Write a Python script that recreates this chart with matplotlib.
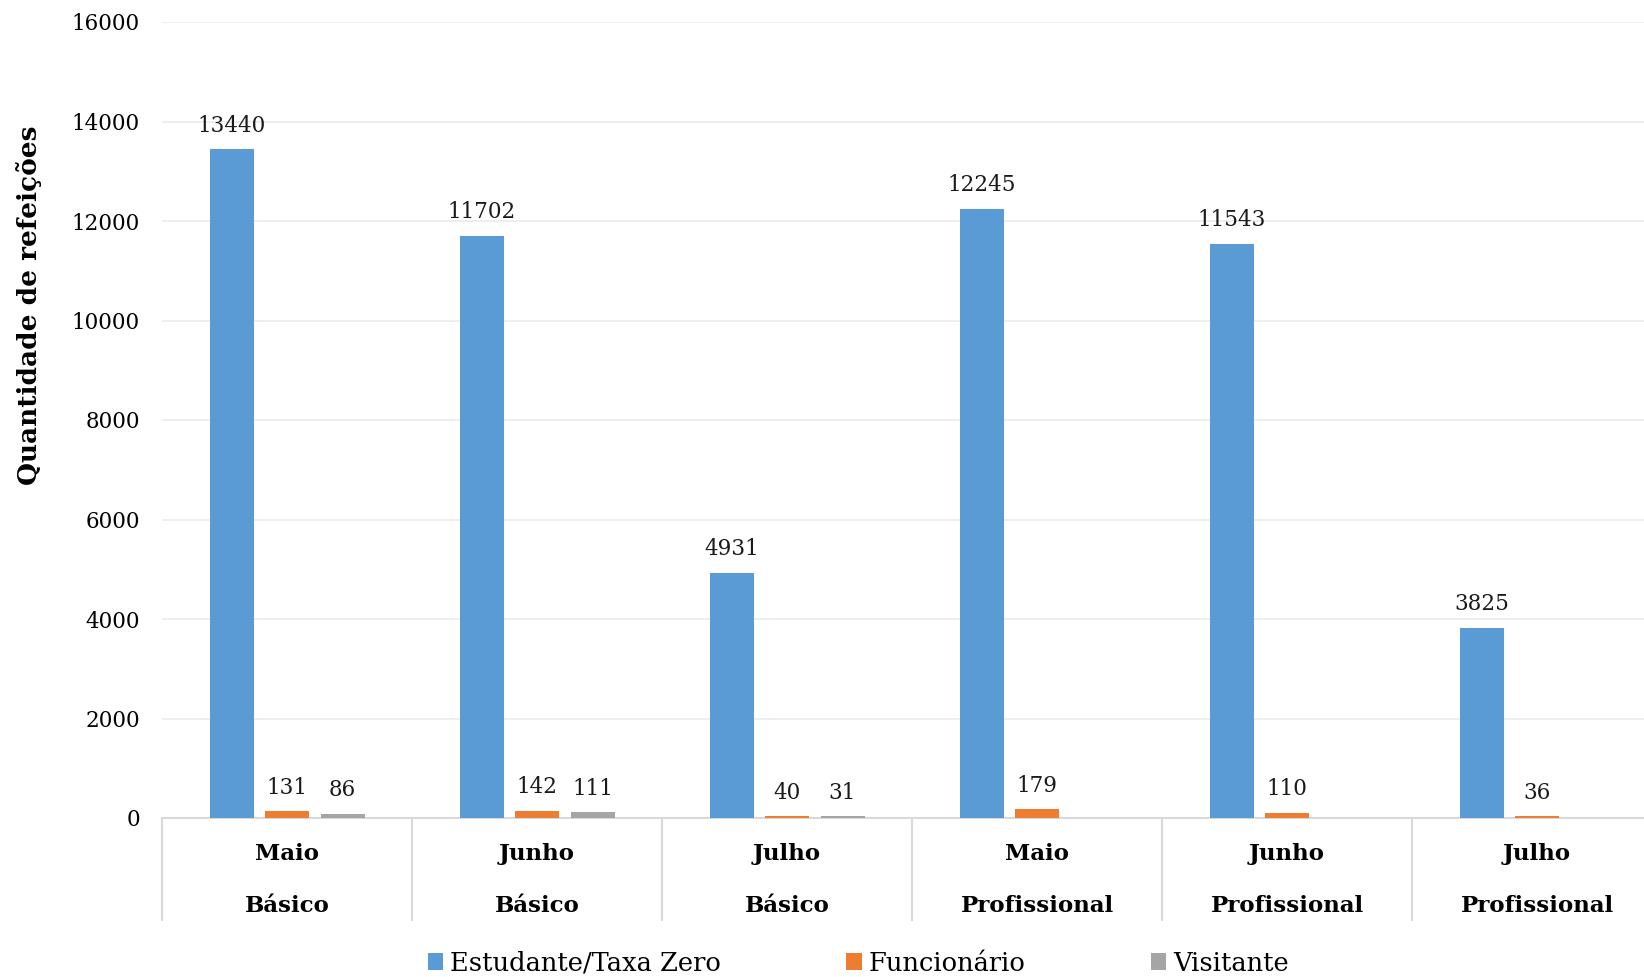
import matplotlib
matplotlib.use("Agg")
import matplotlib.pyplot as plt
import matplotlib.transforms as mtransforms
from matplotlib.patches import Patch
import numpy as np

# Meal counts per month and unit
months = ["Maio", "Junho", "Julho", "Maio", "Junho", "Julho"]
units = ["Básico", "Básico", "Básico", "Profissional", "Profissional", "Profissional"]
series_names = ["Estudante/Taxa Zero", "Funcionário", "Visitante"]
estudante = [13440, 11702, 4931, 12245, 11543, 3825]
funcionario = [131, 142, 40, 179, 110, 36]
visitante = [86, 111, 31, 0, 0, 0]
yticks = [0, 2000, 4000, 6000, 8000, 10000, 12000, 14000, 16000]

colors = ["#5B9BD5", "#ED7D31", "#A5A5A5"]
serif = "DejaVu Serif"
plt.rcParams["font.family"] = serif

W, H = 1644, 977
fig = plt.figure(figsize=(W / 100, H / 100), dpi=100)
ax = fig.add_axes([162 / W, 159 / H, 1500 / W, 796 / H])

x = np.arange(len(months))
bw = 0.176
step = 0.222
for i, (vals, c) in enumerate(zip([estudante, funcionario, visitante], colors)):
    bars = ax.bar(x + (i - 1) * step, vals, width=bw, color=c, zorder=3)
    labels = [f"{v}" if v > 0 else "" for v in vals]
    ax.bar_label(bars, labels=labels, padding=9, fontsize=15.5, color="#1a1a1a")

ax.set_xlim(-0.5, len(months) - 0.5)
ax.set_ylim(0, 16000)
ax.set_yticks(yticks)
ax.set_yticklabels([str(t) for t in yticks], fontsize=15.5)
ax.tick_params(axis="y", length=0, pad=16)
ax.grid(axis="y", color="#EDEDED", linewidth=1.3, zorder=0)
ax.set_xticks([])

for s in ["top", "right", "left"]:
    ax.spines[s].set_visible(False)
ax.spines["bottom"].set_color("#D9D9D9")
ax.spines["bottom"].set_linewidth(1.5)

# Two-level category axis with separators
trans = mtransforms.blended_transform_factory(ax.transData, ax.transAxes)
depth = -102 / 796
for b in np.arange(len(months) + 1) - 0.5:
    ax.plot([b, b], [0, depth], transform=trans, color="#D9D9D9",
            linewidth=1.5, clip_on=False)
for xi, m, u in zip(x, months, units):
    ax.text(xi, -36 / 796, m, transform=trans, ha="center", va="center",
            fontsize=16.5, fontweight="bold")
    ax.text(xi, -88 / 796, u, transform=trans, ha="center", va="center",
            fontsize=16.5, fontweight="bold")

ax.set_ylabel("Quantidade de refeições", fontsize=19, fontweight="bold",
              va="center")
ax.yaxis.set_label_coords(-133 / 1500, 0.644)

handles = [Patch(facecolor=c, edgecolor="none") for c in colors]
fig.legend(handles, series_names, loc="center", bbox_to_anchor=(0.522, 0.0143),
           ncol=3, frameon=False, fontsize=18.5, handlelength=0.6,
           handleheight=0.6, handletextpad=0.25, columnspacing=4.9)

fig.savefig("out.png", dpi=100)
